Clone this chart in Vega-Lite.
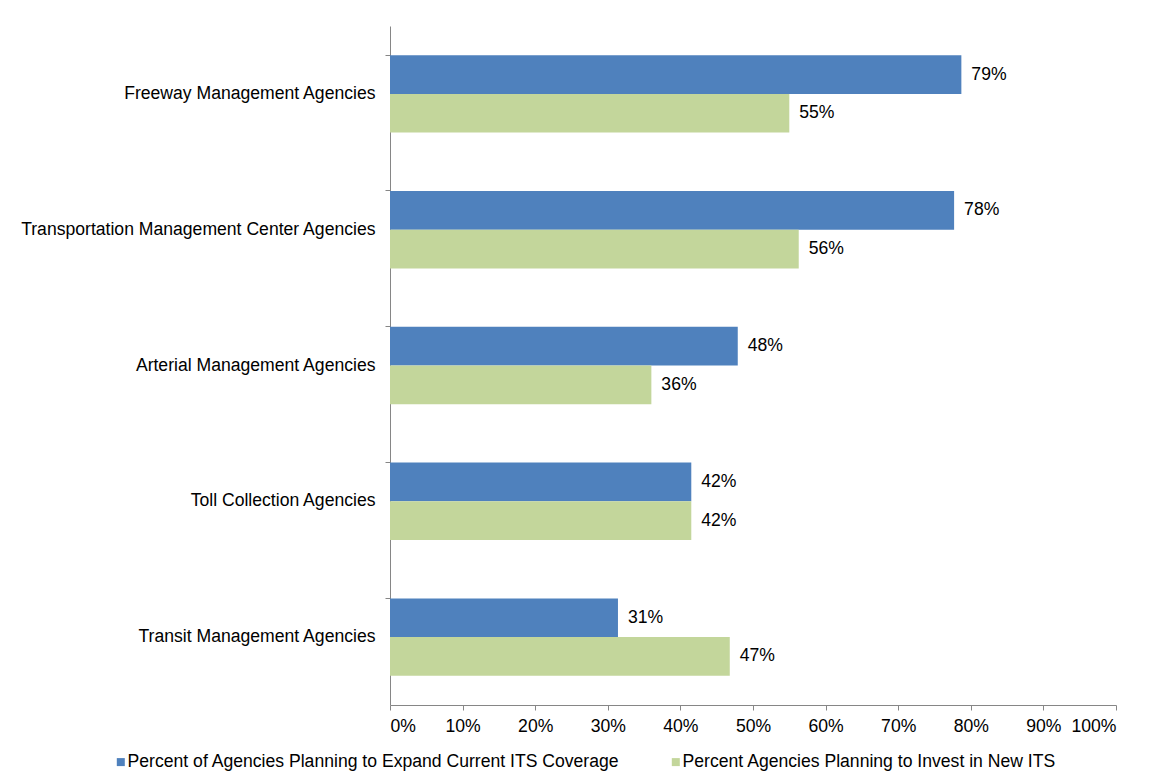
{
  "$schema": "https://vega.github.io/schema/vega-lite/v6.json",
  "autosize": "none",
  "padding": {"left": 390, "top": 26, "right": 35, "bottom": 79},
  "width": 726,
  "height": 679,
  "background": "white",
  "config": {
    "view": {"stroke": null},
    "font": "Liberation Sans",
    "axis": {"labelFont": "Liberation Sans", "labelFontSize": 17.6, "labelColor": "#000000", "domainColor": "#868686", "tickColor": "#868686", "grid": false, "labelLimit": 0},
    "legend": {"labelFont": "Liberation Sans", "labelFontSize": 17.6, "labelColor": "#000000", "labelLimit": 0}
  },
  "data": {
    "values": [
      {"agency": "Freeway Management Agencies", "series": "Percent  of Agencies Planning to Expand Current ITS Coverage", "value": 0.787},
      {"agency": "Freeway Management Agencies", "series": "Percent Agencies Planning to Invest in New ITS", "value": 0.550},
      {"agency": "Transportation Management Center Agencies", "series": "Percent  of Agencies Planning to Expand Current ITS Coverage", "value": 0.777},
      {"agency": "Transportation Management Center Agencies", "series": "Percent Agencies Planning to Invest in New ITS", "value": 0.563},
      {"agency": "Arterial Management Agencies", "series": "Percent  of Agencies Planning to Expand Current ITS Coverage", "value": 0.479},
      {"agency": "Arterial Management Agencies", "series": "Percent Agencies Planning to Invest in New ITS", "value": 0.360},
      {"agency": "Toll Collection Agencies", "series": "Percent  of Agencies Planning to Expand Current ITS Coverage", "value": 0.415},
      {"agency": "Toll Collection Agencies", "series": "Percent Agencies Planning to Invest in New ITS", "value": 0.415},
      {"agency": "Transit Management Agencies", "series": "Percent  of Agencies Planning to Expand Current ITS Coverage", "value": 0.314},
      {"agency": "Transit Management Agencies", "series": "Percent Agencies Planning to Invest in New ITS", "value": 0.468}
    ]
  },
  "encoding": {
    "y": {
      "field": "agency", "type": "nominal", "sort": null, "title": null,
      "scale": {"paddingInner": 0.43, "paddingOuter": 0.215},
      "axis": {"bandPosition": 0, "tickSize": 5, "labelPadding": 10, "domainColor": "#868686"}
    },
    "yOffset": {"field": "series", "type": "nominal", "sort": null},
    "x": {
      "field": "value", "type": "quantitative", "title": null,
      "scale": {"domain": [0, 1], "nice": false},
      "axis": {"format": ".0%", "values": [0, 0.1, 0.2, 0.3, 0.4, 0.5, 0.6, 0.7, 0.8, 0.9, 1.0], "labelOverlap": false, "tickSize": 5, "labelPadding": 7}
    }
  },
  "layer": [
    {
      "mark": {"type": "bar"},
      "encoding": {
        "color": {
          "field": "series", "type": "nominal", "sort": null,
          "scale": {"range": ["#4F81BD", "#C3D69B"]},
          "legend": {"title": null, "orient": "none", "direction": "horizontal", "legendX": -278, "legendY": 727, "padding": 0, "symbolType": "square", "symbolSize": 64, "symbolStrokeWidth": 0, "labelOffset": -2, "columnPadding": 42}
        }
      }
    },
    {
      "mark": {"type": "text", "align": "left", "baseline": "middle", "dx": 10, "fontSize": 17.6, "font": "Liberation Sans", "color": "#000000"},
      "encoding": {
        "text": {"field": "value", "type": "quantitative", "format": ".0%"}
      }
    }
  ]
}
